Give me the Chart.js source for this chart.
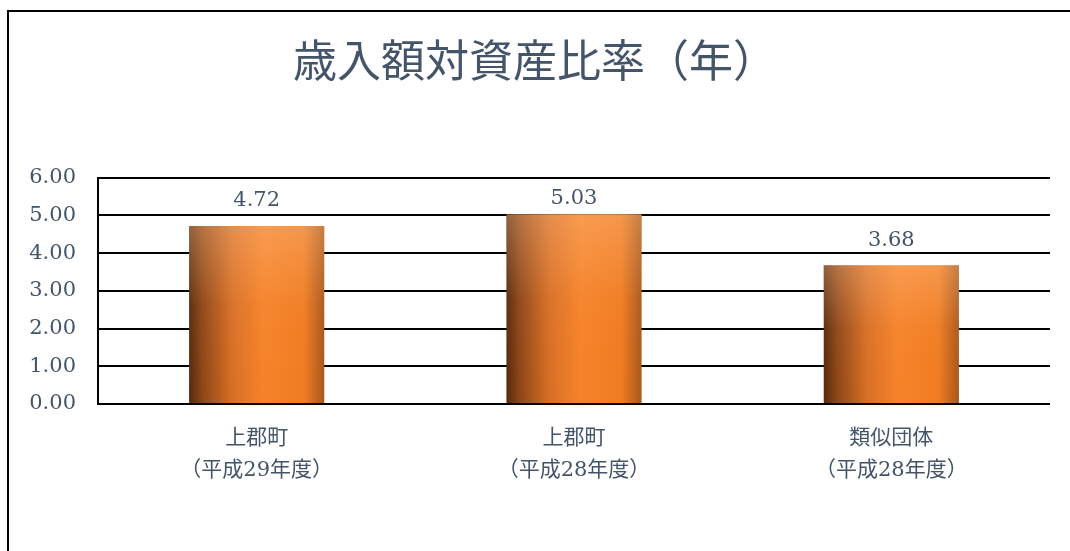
<!DOCTYPE html>
<html>
<head>
<meta charset="utf-8">
<script src="https://cdn.jsdelivr.net/npm/chart.js@4/dist/chart.umd.min.js"></script>
<style>
html,body{margin:0;padding:0;background:#fff;}
#wrap{position:relative;width:1070px;height:551px;}
</style>
</head>
<body>
<div id="wrap"><canvas id="c" width="1070" height="551"></canvas></div>
<script>
const titleText = '歳入額対資産比率（年）';
const categories = [['上郡町','（平成29年度）'],['上郡町','（平成28年度）'],['類似団体','（平成28年度）']];
const values = [4.72, 5.03, 3.68];
const yTicks = [0, 1, 2, 3, 4, 5, 6];

const textColor = '#44546A';
const labelFont = '"DejaVu Serif", "Noto Sans CJK JP", serif';
const cjkFont = '"Noto Sans CJK JP", "DejaVu Serif", sans-serif';

const framePlugin = {
  id: 'frame',
  beforeDraw(chart) {
    const c = chart.ctx;
    c.save();
    c.fillStyle = '#fff';
    c.fillRect(0, 0, chart.width, chart.height);
    c.strokeStyle = '#000';
    c.lineWidth = 2;
    c.beginPath();
    c.moveTo(8, 551);
    c.lineTo(8, 11);
    c.lineTo(1070, 11);
    c.stroke();
    c.restore();
  }
};

const barStylePlugin = {
  id: 'barStyle',
  beforeDatasetsDraw(chart) {
    const c = chart.ctx;
    chart.getDatasetMeta(0).data.forEach(el => {
      const l = el.x - el.width / 2, r = el.x + el.width / 2;
      const g = c.createLinearGradient(l, 0, r, 0);
      g.addColorStop(0, '#552a0e');
      g.addColorStop(0.1, '#8e4617');
      g.addColorStop(0.32, '#d86f26');
      g.addColorStop(0.55, '#f6832a');
      g.addColorStop(0.85, '#f07c22');
      g.addColorStop(1, '#a8571c');
      el.options = Object.assign({}, el.options, { backgroundColor: g });
    });
  },
  afterDatasetsDraw(chart) {
    const c = chart.ctx;
    const area = chart.chartArea;
    c.save();
    chart.getDatasetMeta(0).data.forEach((el, i) => {
      const l = el.x - el.width / 2;
      const top = el.y, bot = el.base;
      const g = c.createLinearGradient(0, top, 0, bot);
      g.addColorStop(0, 'rgba(255,200,150,0.35)');
      g.addColorStop(0.45, 'rgba(255,200,150,0.05)');
      g.addColorStop(1, 'rgba(255,120,20,0)');
      c.fillStyle = g;
      c.fillRect(l, top, el.width, bot - top);
      c.fillStyle = textColor;
      c.font = '21px ' + labelFont;
      c.textAlign = 'center';
      c.textBaseline = 'middle';
      const ly = Math.max(el.y - 25, area.top + 21);
      c.fillText(values[i].toFixed(2), el.x, ly);
    });
    c.restore();
  }
};

new Chart(document.getElementById('c'), {
  type: 'bar',
  data: {
    labels: categories,
    datasets: [{
      data: values,
      backgroundColor: () => '#f07a22',
      borderWidth: 0,
      categoryPercentage: 1.0,
      barPercentage: 0.426
    }]
  },
  options: {
    responsive: false,
    animation: false,
    devicePixelRatio: 1,
    layout: { padding: { left: 20, right: 20, top: 0, bottom: 46 } },
    plugins: {
      legend: { display: false },
      tooltip: { enabled: false },
      title: {
        display: true,
        text: titleText,
        color: textColor,
        font: { family: cjkFont, size: 44, weight: 'normal', lineHeight: 1.2 },
        padding: { top: 34, bottom: 91 }
      }
    },
    scales: {
      x: {
        grid: { display: false, drawTicks: false },
        border: { display: false },
        ticks: {
          color: textColor,
          font: { family: labelFont, size: 21, lineHeight: 1.55 },
          padding: 18,
          maxRotation: 0,
          autoSkip: false
        }
      },
      y: {
        min: 0,
        max: 6,
        afterBuildTicks(scale) { scale.ticks = yTicks.map(v => ({ value: v })); },
        afterFit(scale) { scale.width = 78; },
        grid: { color: '#000', lineWidth: 2, drawTicks: false },
        border: { display: true, color: '#000', width: 2 },
        ticks: {
          color: textColor,
          font: { family: labelFont, size: 21 },
          padding: 22,
          callback: v => Number(v).toFixed(2)
        }
      }
    }
  },
  plugins: [framePlugin, barStylePlugin]
});
</script>
</body>
</html>
